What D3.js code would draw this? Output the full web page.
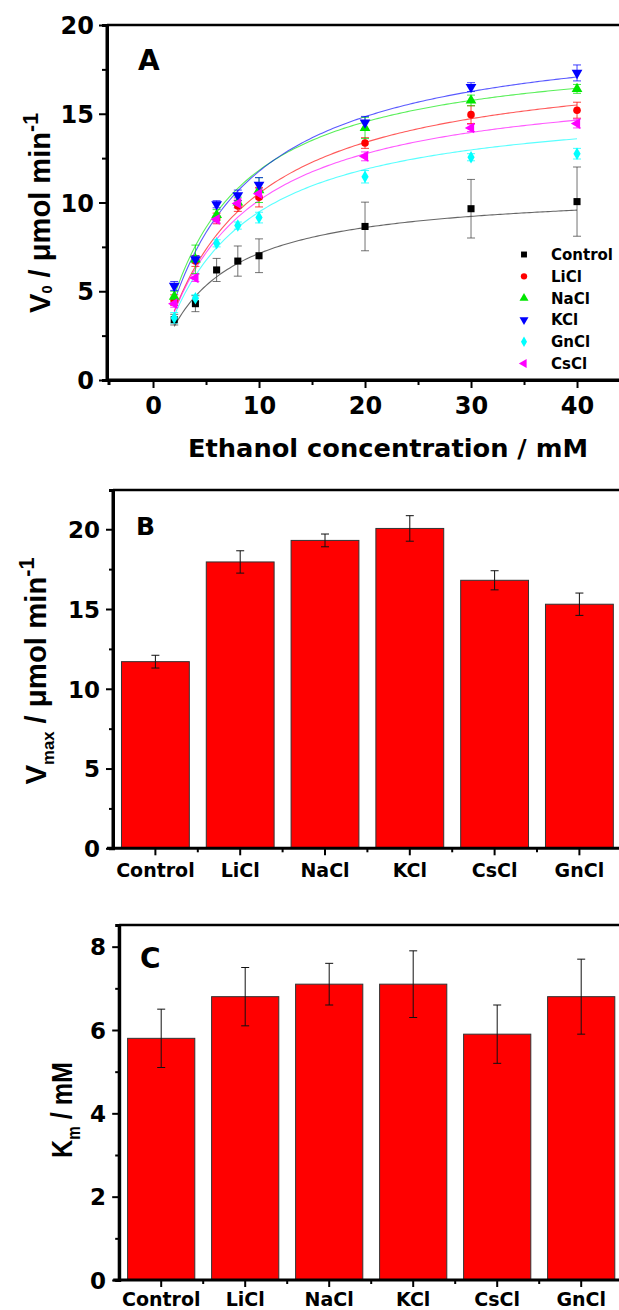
<!DOCTYPE html>
<html><head><meta charset="utf-8">
<script src="https://cdn.jsdelivr.net/npm/d3@7"></script>
<style>body{margin:0;background:#fff} svg{display:block;font-family:"DejaVu Sans",sans-serif;font-weight:bold}</style>
</head><body><svg id="c" width="619" height="1310"></svg>
<script>
// ---------- Panel A data ----------
const concentrations = [2, 4, 6, 8, 10, 20, 30, 40];
const seriesNames = ["Control", "LiCl", "NaCl", "KCl", "GnCl", "CsCl"];
const seriesColors = ["#000000", "#ff0000", "#00e600", "#0000ff", "#00ffff", "#ff00ff"];
const controlV0 = [3.4, 4.3, 6.2, 6.7, 7.0, 8.65, 9.65, 10.05];
const controlErr = [0.3, 0.45, 0.65, 0.85, 0.95, 1.37, 1.65, 1.95];
const liclV0 = [4.5, 6.7, 9.1, 9.8, 10.3, 13.35, 14.95, 15.2];
const liclErr = [0.3, 0.3, 0.3, 0.3, 0.55, 0.3, 0.5, 0.45];
const naclV0 = [4.7, 6.8, 9.3, 10.0, 10.7, 14.2, 15.75, 16.4];
const naclErr = [0.3, 0.8, 0.3, 0.3, 0.7, 0.6, 0.3, 0.25];
const kclV0 = [5.3, 6.8, 9.9, 10.4, 11.0, 14.5, 16.5, 17.3];
const kclErr = [0.25, 0.2, 0.2, 0.3, 0.4, 0.35, 0.25, 0.45];
const gnclV0 = [3.5, 4.6, 7.7, 8.7, 9.15, 11.45, 12.55, 12.75];
const gnclErr = [0.3, 0.2, 0.2, 0.2, 0.3, 0.35, 0.2, 0.3];
const csclV0 = [4.3, 5.75, 9.05, 9.95, 10.5, 12.6, 14.2, 14.45];
const csclErr = [0.2, 0.2, 0.2, 0.25, 0.3, 0.25, 0.2, 0.25];
// Michaelis–Menten fit parameters of the drawn curves (order = seriesNames)
const fitVmax = [10.8, 18.4, 18.9, 20.1, 15.9, 17.2];
const fitKm = [5.15, 7.5, 6.0, 7.1, 6.8, 7.0];
const aYTicks = [0, 5, 10, 15, 20];
const aYMinor = [2.5, 7.5, 12.5, 17.5];
const aXTicks = [0, 10, 20, 30, 40];
const aXMinor = [5, 15, 25, 35];

// ---------- Panels B & C data ----------
const barCategories = ["Control", "LiCl", "NaCl", "KCl", "CsCl", "GnCl"];
const vmaxValues = [11.7, 17.95, 19.3, 20.05, 16.8, 15.3];
const vmaxErrors = [0.4, 0.7, 0.4, 0.8, 0.6, 0.7];
const kmValues = [5.8, 6.8, 7.1, 7.1, 5.9, 6.8];
const kmErrors = [0.7, 0.7, 0.5, 0.8, 0.7, 0.9];
const bYTicks = [0, 5, 10, 15, 20];
const bYMinor = [2.5, 7.5, 12.5, 17.5];
const cYTicks = [0, 2, 4, 6, 8];
const cYMinor = [1, 3, 5, 7];

const svg = d3.select("#c");
const W = 619;

// ================= Panel A =================
(function () {
  const left = 107, top = 25, bottom = 380;
  const x = d3.scaleLinear().domain([-4.2, 44.2]).range([108.5, 108.5 + 48.4 * 10.6]);
  const y = d3.scaleLinear().domain([0, 20]).range([bottom, top]);
  const g = svg.append("g");

  g.append("line").attr("x1", left).attr("x2", W).attr("y1", top).attr("y2", top)
    .attr("stroke", "#000").attr("stroke-width", 2.5);

  const yAx = g.append("g").attr("transform", `translate(${left},0)`)
    .call(d3.axisLeft(y).tickValues(aYTicks).tickSize(8).tickFormat(d3.format("d")));
  g.append("g").attr("transform", `translate(${left},0)`)
    .call(d3.axisLeft(y).tickValues(aYMinor).tickSize(5).tickFormat(""));
  const xAx = g.append("g").attr("transform", `translate(0,${bottom})`)
    .call(d3.axisBottom(x).tickValues(aXTicks).tickSize(8).tickFormat(d3.format("d")));
  g.append("g").attr("transform", `translate(0,${bottom})`)
    .call(d3.axisBottom(x).tickValues(aXMinor).tickSize(5).tickFormat(""));
  g.selectAll(".domain").attr("stroke-width", 3);
  g.selectAll(".tick line").attr("stroke-width", 2);
  yAx.selectAll("text").attr("font-size", 24).attr("font-family", "DejaVu Sans").attr("font-weight", "bold")
    .attr("x", -13).attr("dy", "0.36em");
  xAx.selectAll("text").attr("font-size", 24).attr("font-family", "DejaVu Sans").attr("font-weight", "bold")
    .attr("y", 17).attr("dy", "0.71em");
  xAx.select(".domain").attr("d", `M${left},0H${W + 5}`);
  yAx.select(".domain").attr("d", `M0,${bottom}V${top}`);

  g.append("text").attr("x", 138).attr("y", 70).attr("font-size", 28).text("A");

  g.append("text").attr("x", 388).attr("y", 457).attr("text-anchor", "middle")
    .attr("font-size", 24).attr("textLength", 400).attr("lengthAdjust", "spacingAndGlyphs")
    .text("Ethanol concentration / mM");

  const yt = g.append("text").attr("transform", "translate(50,213) rotate(-90)")
    .attr("text-anchor", "middle").attr("font-family", "Liberation Sans, Arial, sans-serif")
    .attr("font-size", 30).attr("textLength", 200).attr("lengthAdjust", "spacingAndGlyphs");
  yt.append("tspan").text("V");
  yt.append("tspan").attr("dy", 2).attr("font-size", 15).text("0");
  yt.append("tspan").attr("dy", -2).text(" / \u03bcmol min");
  yt.append("tspan").attr("dy", -12).attr("font-size", 22).text("-1");

  const values = [controlV0, liclV0, naclV0, kclV0, gnclV0, csclV0];
  const errors = [controlErr, liclErr, naclErr, kclErr, gnclErr, csclErr];
  const symbols = [
    { t: d3.symbolSquare, s: 50, r: 0 },
    { t: d3.symbolCircle, s: 45, r: 0 },
    { t: d3.symbolTriangle, s: 50, r: 0 },
    { t: d3.symbolTriangle, s: 50, r: 180 },
    { t: d3.symbolDiamond, s: 45, r: 0 },
    { t: d3.symbolTriangle, s: 50, r: -90 }
  ];

  const xs = d3.range(2, 40.001, 0.25);
  seriesNames.forEach((name, i) => {
    const line = d3.line().x(d => x(d)).y(d => y(fitVmax[i] * d / (fitKm[i] + d)));
    g.append("path").attr("d", line(xs)).attr("fill", "none")
      .attr("stroke", seriesColors[i]).attr("stroke-opacity", i === 0 ? 0.6 : 0.65).attr("stroke-width", 1.1);
  });

  seriesNames.forEach((name, i) => {
    const col = i === 0 ? "#444" : seriesColors[i];
    const eg = g.append("g").attr("stroke", col).attr("stroke-width", 1).attr("stroke-opacity", 0.75);
    concentrations.forEach((c, j) => {
      const v = values[i][j], e = errors[i][j];
      eg.append("line").attr("x1", x(c)).attr("x2", x(c)).attr("y1", y(v - e)).attr("y2", y(v + e));
      eg.append("line").attr("x1", x(c) - 4).attr("x2", x(c) + 4).attr("y1", y(v - e)).attr("y2", y(v - e));
      eg.append("line").attr("x1", x(c) - 4).attr("x2", x(c) + 4).attr("y1", y(v + e)).attr("y2", y(v + e));
    });
  });
  seriesNames.forEach((name, i) => {
    const sym = symbols[i];
    g.append("g").selectAll("path").data(concentrations).join("path")
      .attr("d", d3.symbol().type(sym.t).size(sym.s))
      .attr("transform", (c, j) => `translate(${x(c)},${y(values[i][j])}) rotate(${sym.r})`)
      .attr("fill", seriesColors[i]);
  });

  const lg = g.append("g");
  seriesNames.forEach((name, i) => {
    const ly = 254.5 + i * 21.8;
    const sym = symbols[i];
    lg.append("path").attr("d", d3.symbol().type(sym.t).size(sym.s * 0.7))
      .attr("transform", `translate(524,${ly}) rotate(${sym.r})`).attr("fill", seriesColors[i]);
    lg.append("text").attr("x", 551).attr("y", ly + 5.5).attr("font-size", 15).text(name);
  });
})();

// ================= Bar panels =================
function barPanel(opts) {
  const { left, top, bottom, domainMax, values, errors, ticks, minor, tickFont, tickRight, letter, letterX, letterY, letterSize, title } = opts;
  const step = opts.step;
  const x = d3.scaleBand().domain(barCategories).range([left, left + step * 6]).paddingInner(0.2).paddingOuter(0.1);
  const y = d3.scaleLinear().domain([0, domainMax]).range([bottom, top]);
  const g = svg.append("g");

  g.append("line").attr("x1", left).attr("x2", W).attr("y1", top).attr("y2", top)
    .attr("stroke", "#000").attr("stroke-width", 2.5);

  g.selectAll("rect.bar").data(barCategories).join("rect").attr("class", "bar")
    .attr("x", d => x(d)).attr("width", x.bandwidth())
    .attr("y", (d, i) => y(values[i])).attr("height", (d, i) => bottom - y(values[i]))
    .attr("fill", "#ff0000").attr("stroke", "#333").attr("stroke-width", 1);

  const eg = g.append("g").attr("stroke", "#111").attr("stroke-width", 1);
  barCategories.forEach((c, i) => {
    const cx = x(c) + x.bandwidth() / 2, v = values[i], e = errors[i];
    eg.append("line").attr("x1", cx).attr("x2", cx).attr("y1", y(v - e)).attr("y2", y(v + e));
    eg.append("line").attr("x1", cx - 4).attr("x2", cx + 4).attr("y1", y(v - e)).attr("y2", y(v - e));
    eg.append("line").attr("x1", cx - 4).attr("x2", cx + 4).attr("y1", y(v + e)).attr("y2", y(v + e));
  });

  const yAx = g.append("g").attr("transform", `translate(${left},0)`)
    .call(d3.axisLeft(y).tickValues(ticks).tickSize(7).tickFormat(d3.format("d")));
  g.append("g").attr("transform", `translate(${left},0)`)
    .call(d3.axisLeft(y).tickValues(minor).tickSize(4).tickFormat(""));
  yAx.select(".domain").attr("d", `M0,${bottom}V${top}`);
  yAx.selectAll("text").attr("font-size", tickFont).attr("font-family", "DejaVu Sans").attr("font-weight", "bold")
    .attr("x", tickRight - left).attr("dy", "0.36em");

  const xAx = g.append("g").attr("transform", `translate(0,${bottom})`)
    .call(d3.axisBottom(x).tickSize(7).tickSizeOuter(0));
  xAx.select(".domain").attr("d", `M${left - 6},0H${W + 5}`);
  const bounds = barCategories.slice(1).map(c => x(c) - step * 0.1);
  g.append("g").selectAll("line").data(bounds).join("line")
    .attr("x1", d => d).attr("x2", d => d).attr("y1", bottom).attr("y2", bottom + 4)
    .attr("stroke", "#000").attr("stroke-width", 2);
  xAx.selectAll("text").attr("font-size", 19).attr("font-family", "DejaVu Sans").attr("font-weight", "bold")
    .attr("y", opts.xLabelBase - bottom).attr("dy", 0);
  g.selectAll(".domain").attr("stroke-width", 3);
  g.selectAll(".tick line").attr("stroke-width", 2);

  g.append("text").attr("x", letterX).attr("y", letterY).attr("font-size", letterSize).text(letter);

  const yt = g.append("text").attr("transform", `translate(${title.x},${title.y}) rotate(-90)`)
    .attr("text-anchor", "middle").attr("font-family", "Liberation Sans, Arial, sans-serif")
    .attr("font-size", title.size).attr("textLength", title.len).attr("lengthAdjust", "spacingAndGlyphs");
  title.parts.forEach(p => {
    const t = yt.append("tspan").text(p.t);
    if (p.dy) t.attr("dy", p.dy);
    if (p.fs) t.attr("font-size", p.fs);
  });
}

barPanel({
  left: 113, top: 490, bottom: 848.3, domainMax: 22.46, step: 84.8,
  values: vmaxValues, errors: vmaxErrors, ticks: bYTicks, minor: bYMinor,
  tickFont: 23, tickRight: 100,
  letter: "B", letterX: 136, letterY: 535, letterSize: 25, xLabelBase: 877,
  title: { x: 46, y: 671, size: 30, len: 227, parts: [
    { t: "V" }, { t: "max", dy: 8, fs: 17 }, { t: " / \u03bcmol min", dy: -8 }, { t: "-1", dy: -12, fs: 22 }] }
});

barPanel({
  left: 119.2, top: 925, bottom: 1280, domainMax: 8.52, step: 84,
  values: kmValues, errors: kmErrors, ticks: cYTicks, minor: cYMinor,
  tickFont: 23, tickRight: 106,
  letter: "C", letterX: 140, letterY: 968, letterSize: 28, xLabelBase: 1306,
  title: { x: 72, y: 1110, size: 30, len: 96, parts: [
    { t: "K" }, { t: "m", dy: 8, fs: 18 }, { t: " / mM", dy: -8 }] }
});
</script>
</body></html>
